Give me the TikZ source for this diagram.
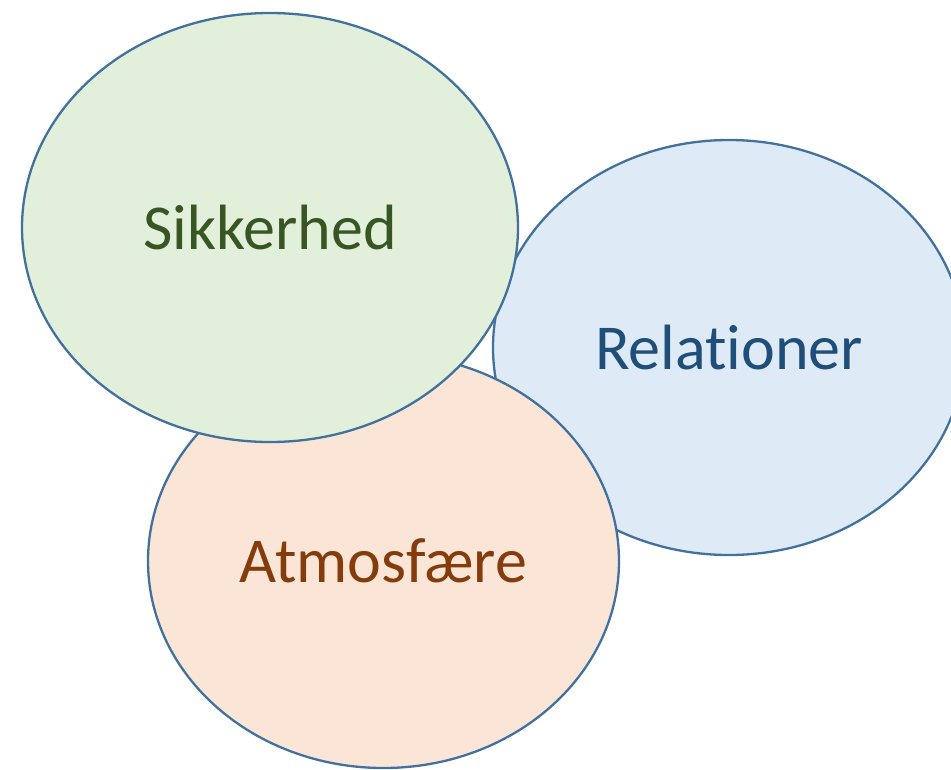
\documentclass[tikz,border=0pt]{standalone}
\usepackage{fontspec}
\setmainfont[Ligatures=NoCommon]{Carlito}
\usetikzlibrary{shapes.geometric}
\definecolor{rim}{HTML}{41719C}
\definecolor{greenfill}{HTML}{E2EFDA}
\definecolor{bluefill}{HTML}{DEEBF7}
\definecolor{orangefill}{HTML}{FBE5D6}
\definecolor{greentext}{HTML}{375623}
\definecolor{bluetext}{HTML}{1F4E79}
\definecolor{orangetext}{HTML}{843C0C}
\begin{document}
\begin{tikzpicture}[
  x=1pt, y=-1pt,
  bubble/.style={ellipse, draw=rim, line width=2.3pt, inner sep=0pt,
    font=\fontsize{64}{76}\selectfont},
]
\useasboundingbox (0,0) rectangle (951,769);
% Back circle
\node[bubble, fill=bluefill, text=bluetext, minimum width=472pt, minimum height=415pt] (rel) at (729,347.5) {Relationer};
% Middle circle
\node[bubble, fill=orangefill, text=orangetext, minimum width=471pt, minimum height=414pt] (atm) at (383.5,561) {Atmosfære};
% Front circle
\node[bubble, fill=greenfill, text=greentext, minimum width=496pt, minimum height=429pt] (sik) at (270,227.5) {Sikkerhed};
\end{tikzpicture}
\end{document}
